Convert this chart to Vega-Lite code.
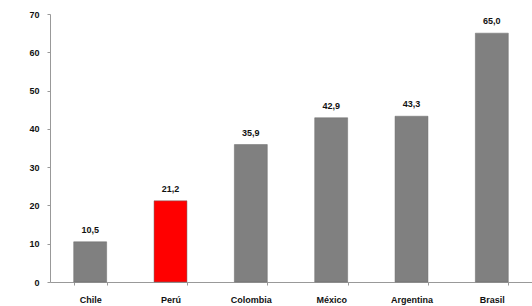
{
  "$schema": "https://vega.github.io/schema/vega-lite/v6.json",
  "width": 482,
  "height": 268,
  "autosize": "none",
  "padding": {"left": 50, "top": 14, "right": 0, "bottom": 24},
  "background": "white",
  "config": {
    "view": {"stroke": null},
    "font": "Liberation Sans",
    "axis": {"grid": false, "domainColor": "#999999", "tickColor": "#999999", "labelFont": "Liberation Sans", "labelFontWeight": "bold", "labelFontSize": 9, "labelColor": "#111111"}
  },
  "data": {
    "values": [
      {"pais": "Chile", "valor": 10.5, "etiqueta": "10,5", "grupo": "otro"},
      {"pais": "Perú", "valor": 21.2, "etiqueta": "21,2", "grupo": "peru"},
      {"pais": "Colombia", "valor": 35.9, "etiqueta": "35,9", "grupo": "otro"},
      {"pais": "México", "valor": 42.9, "etiqueta": "42,9", "grupo": "otro"},
      {"pais": "Argentina", "valor": 43.3, "etiqueta": "43,3", "grupo": "otro"},
      {"pais": "Brasil", "valor": 65.0, "etiqueta": "65,0", "grupo": "otro"}
    ]
  },
  "encoding": {
    "x": {
      "field": "pais", "type": "nominal", "sort": null, "title": null,
      "scale": {"paddingInner": 0.59, "paddingOuter": 0.295},
      "axis": {"labelAngle": 0, "tickBand": "extent", "tickSize": 3, "labelPadding": 10}
    },
    "y": {
      "field": "valor", "type": "quantitative", "title": null,
      "scale": {"domain": [0, 70], "nice": false},
      "axis": {"values": [0, 10, 20, 30, 40, 50, 60, 70], "tickSize": 3, "labelPadding": 8}
    }
  },
  "layer": [
    {
      "mark": {"type": "bar", "stroke": "#6a6a6a", "strokeWidth": 0.5},
      "encoding": {
        "color": {"field": "grupo", "type": "nominal", "legend": null,
          "scale": {"domain": ["otro", "peru"], "range": ["#808080", "#ff0000"]}}
      }
    },
    {
      "mark": {"type": "text", "dy": -7, "baseline": "bottom", "fontWeight": "bold", "fontSize": 9, "color": "#111111"},
      "encoding": {"text": {"field": "etiqueta"}}
    }
  ]
}
